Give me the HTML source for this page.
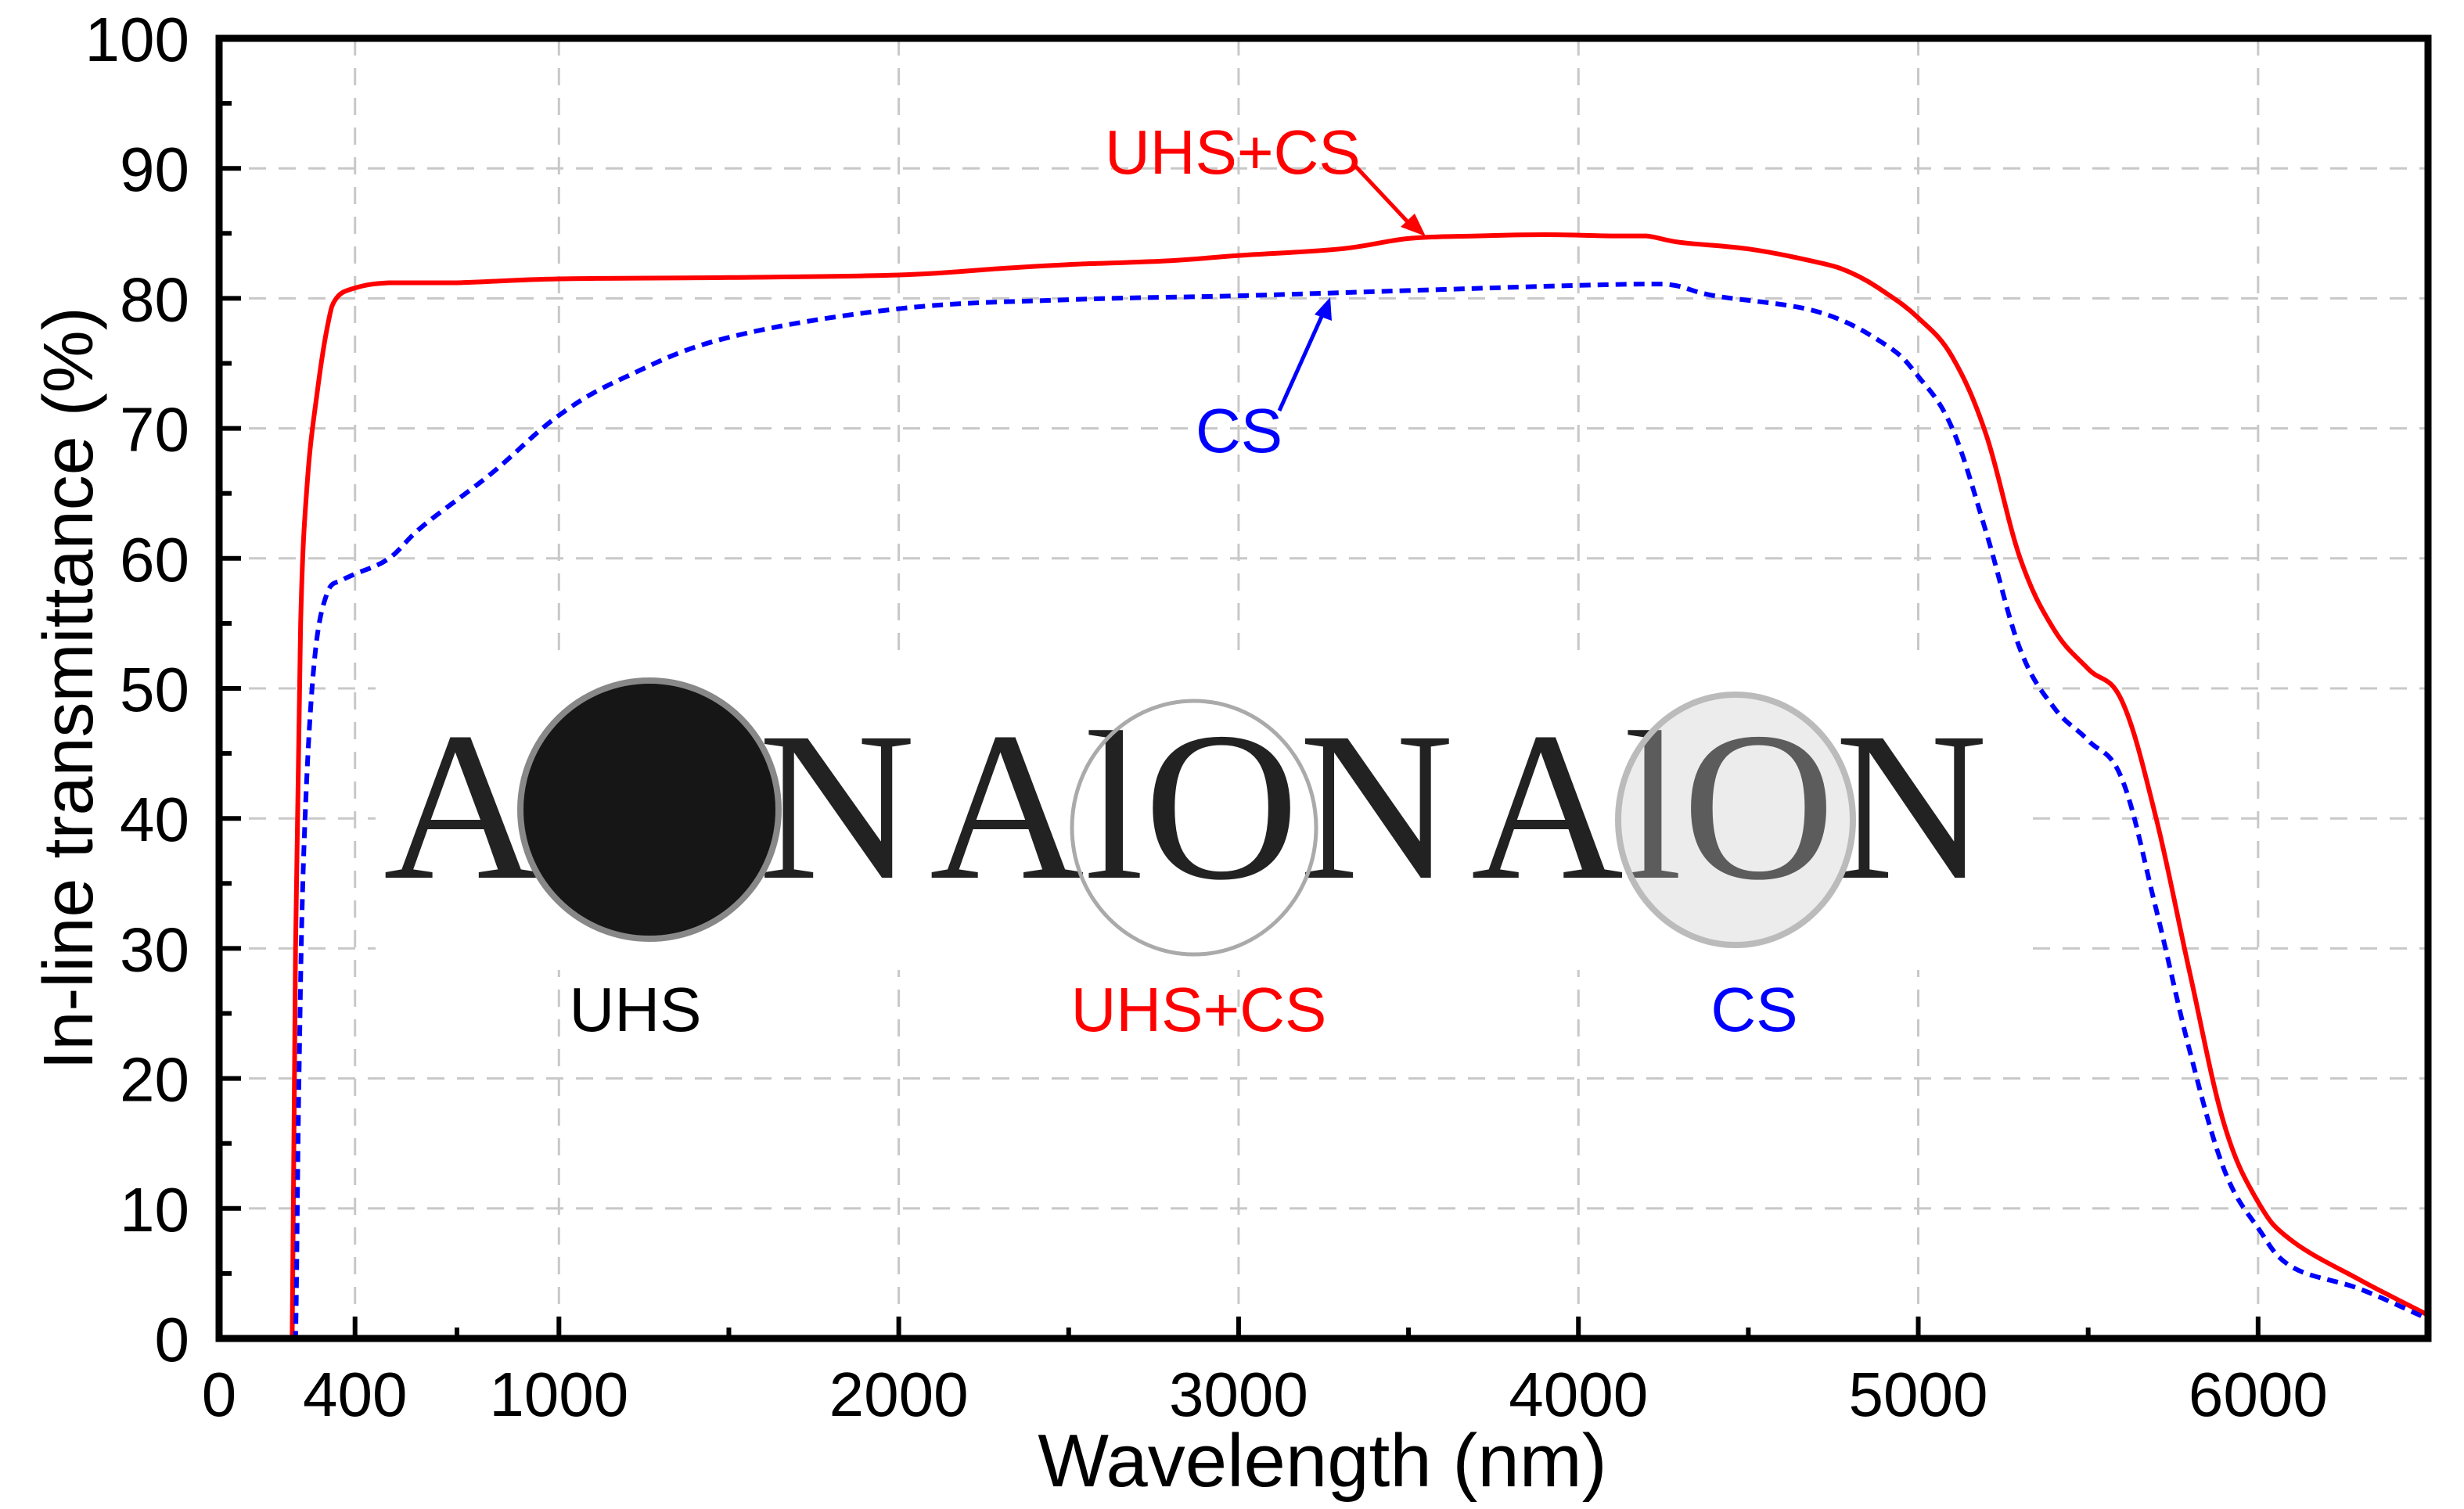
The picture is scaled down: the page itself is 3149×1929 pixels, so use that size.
<!DOCTYPE html>
<html><head><meta charset="utf-8"><style>
html,body{margin:0;padding:0;background:#fff;}
svg{display:block;font-family:"Liberation Sans",Arial,sans-serif;}
</style></head><body>
<svg id="chart" width="3149" height="1929" viewBox="0 0 3149 1929" xmlns="http://www.w3.org/2000/svg">
<g id="grid"></g>
<g id="photo">
  <rect x="480" y="840" width="2110" height="400" fill="#fff"/>
  <text x="490" y="1122" font-family="Liberation Serif, serif" font-size="272" fill="#222" textLength="680" lengthAdjust="spacingAndGlyphs">AlON</text>
  <text x="1188" y="1122" font-family="Liberation Serif, serif" font-size="272" fill="#222" textLength="670" lengthAdjust="spacingAndGlyphs">AlON</text>
  <text x="1880" y="1122" font-family="Liberation Serif, serif" font-size="272" fill="#222" textLength="660" lengthAdjust="spacingAndGlyphs">AlON</text>
  <ellipse cx="830" cy="1035" rx="165" ry="165" fill="#161616" stroke="#888" stroke-width="8"/>
  <ellipse cx="1526" cy="1058" rx="156" ry="162" fill="none" stroke="#aaa" stroke-width="5"/>
  <ellipse cx="2218" cy="1048" rx="150" ry="160" fill="rgba(200,200,200,0.35)" stroke="#bbb" stroke-width="8"/>
  <text x="812" y="1318" font-size="80" text-anchor="middle" fill="#000">UHS</text>
  <text x="1532" y="1318" font-size="80" text-anchor="middle" fill="#f00">UHS+CS</text>
  <text x="2242" y="1318" font-size="80" text-anchor="middle" fill="#00f">CS</text>
</g>
<g id="series"></g>
<g id="axes"></g>
<g id="annot">
  <text x="1412" y="222" font-size="80" fill="#f00">UHS+CS</text>
  <line x1="1730" y1="210" x2="1805" y2="290" stroke="#f00" stroke-width="5"/>
  <polygon points="1822,302 1790,290 1808,273" fill="#f00"/>
  <text x="1528" y="578" font-size="80" fill="#00f">CS</text>
  <line x1="1635" y1="525" x2="1692" y2="398" stroke="#00f" stroke-width="5"/>
  <polygon points="1700,380 1702,410 1680,402" fill="#00f"/>
</g>
<text x="1690" y="1900" font-size="96" text-anchor="middle">Wavelength (nm)</text>
<text transform="translate(118,880) rotate(-90)" font-size="90" text-anchor="middle">In-line transmittance (%)</text>
</svg>
<script>
const xMajorTicks=[0,400,1000,2000,3000,4000,5000,6000];
const xGridLines=[400,1000,2000,3000,4000,5000,6000];
const xMinorTicks=[700,1500,2500,3500,4500,5500,6500];
const yMajorTicks=[0,10,20,30,40,50,60,70,80,90,100];
const yMinorTicks=[5,15,25,35,45,55,65,75,85,95];
const uhsCsX=[200,215,225,240,260,290,320,345,400,500,700,1000,1500,2000,2300,2500,2800,3000,3300,3500,3700,3900,4100,4200,4300,4500,4700,4800,4900,5000,5100,5200,5300,5400,5500,5600,5700,5800,5900,6000,6100,6300,6500];
const uhsCsY=[0,0,30,55,66,73,78,80,80.8,81.2,81.2,81.5,81.6,81.8,82.3,82.6,82.9,83.3,83.8,84.6,84.8,84.9,84.8,84.8,84.3,83.8,82.8,82,80.5,78.5,75.5,69.5,60,54.5,51.5,49,40,28,16.5,10.5,7.5,4.5,1.8];
const csX=[215,225,235,250,280,320,360,400,500,600,800,1000,1200,1500,2000,2500,3000,3500,4000,4250,4400,4700,4900,5000,5100,5200,5300,5400,5500,5600,5700,5800,5900,6000,6100,6300,6500];
const csY=[0,0,20,38,52,57.5,58.3,58.8,60,62.5,66.5,71,74,77,79.2,79.9,80.2,80.6,81,81.1,80.2,79,76.5,74,70,62,53,48.5,46,43,33,22,13,8.5,5.5,3.8,1.5];

const L=280,R=3103,T=49,B=1711;
const X=v=>L+(v/6500)*(R-L);
const Y=v=>B-(v/100)*(B-T);
const NS='http://www.w3.org/2000/svg';
function mk(tag,attrs,parent){const e=document.createElementNS(NS,tag);for(const k in attrs)e.setAttribute(k,attrs[k]);parent.appendChild(e);return e;}
const grid=document.getElementById('grid'),axes=document.getElementById('axes'),series=document.getElementById('series');
xGridLines.forEach(v=>{const g=mk('line',{x1:X(v),x2:X(v),y1:T,y2:B,stroke:'#c8c8c8','stroke-width':3,'stroke-dasharray':'22 16'},grid);

});
yMajorTicks.slice(1,-1).forEach(v=>{const g=mk('line',{x1:L,x2:R,y1:Y(v),y2:Y(v),stroke:'#c8c8c8','stroke-width':3,'stroke-dasharray':'22 16'},grid);

});
function clamp(v,a,b){const lo=Math.min(a,b),hi=Math.max(a,b);return Math.max(lo,Math.min(hi,v));}
function path(xs,ys){
  const p=xs.map((x,i)=>[X(x),Y(ys[i])]);
  let d='M'+p[0][0].toFixed(1)+','+p[0][1].toFixed(1);
  for(let i=0;i<p.length-1;i++){
    const p0=p[Math.max(0,i-1)],p1=p[i],p2=p[i+1],p3=p[Math.min(p.length-1,i+2)];
    const t=0.18;
    const c1=[p1[0]+(p2[0]-p0[0])*t,clamp(p1[1]+(p2[1]-p0[1])*t,p1[1],p2[1])];
    const c2=[p2[0]-(p3[0]-p1[0])*t,clamp(p2[1]-(p3[1]-p1[1])*t,p1[1],p2[1])];
    d+='C'+c1[0].toFixed(1)+','+c1[1].toFixed(1)+' '+c2[0].toFixed(1)+','+c2[1].toFixed(1)+' '+p2[0].toFixed(1)+','+p2[1].toFixed(1);
  }
  return d;
}
const red=mk('path',{d:path(uhsCsX,uhsCsY),fill:'none',stroke:'#f00','stroke-width':6,'stroke-linejoin':'round'},series);


const blue=mk('path',{d:path(csX,csY),fill:'none',stroke:'#00f','stroke-width':6,'stroke-dasharray':'14 9','stroke-linejoin':'round'},series);


const frame=mk('rect',{x:L,y:T,width:R-L,height:B-T,fill:'none',stroke:'#000','stroke-width':9},axes);


xMajorTicks.forEach(v=>{const t=mk('line',{x1:X(v),x2:X(v),y1:B,y2:B-28,stroke:'#000','stroke-width':6},axes);


const lb=mk('text',{x:X(v),y:1810,'font-size':80,'text-anchor':'middle'},axes);lb.textContent=v;

});
xMinorTicks.forEach(v=>{const t=mk('line',{x1:X(v),x2:X(v),y1:B,y2:B-14,stroke:'#000','stroke-width':6},axes);

});
yMajorTicks.forEach(v=>{const t=mk('line',{x1:L,x2:L+28,y1:Y(v),y2:Y(v),stroke:'#000','stroke-width':6},axes);


const lb=mk('text',{x:242,y:Y(v)+29,'font-size':80,'text-anchor':'end'},axes);lb.textContent=v;

});
yMinorTicks.forEach(v=>{const t=mk('line',{x1:L,x2:L+16,y1:Y(v),y2:Y(v),stroke:'#000','stroke-width':6},axes);

});
</script>
</body></html>
